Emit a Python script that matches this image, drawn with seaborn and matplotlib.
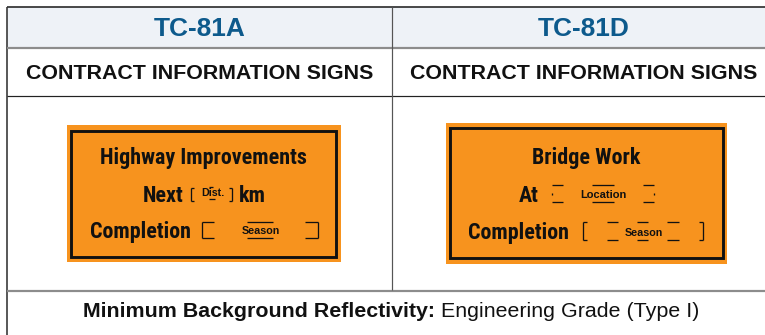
import matplotlib
matplotlib.use("Agg")
import matplotlib.pyplot as plt
import seaborn as sns
from matplotlib import font_manager
from matplotlib.patches import Rectangle

# table text
headers = ["TC-81A", "TC-81D"]
subtitles = ["CONTRACT INFORMATION SIGNS", "CONTRACT INFORMATION SIGNS"]
sign_titles = ["Highway Improvements", "Bridge Work"]
sign_words = [["Next", "km", "Completion"], ["At", "Completion"]]
field_labels = [["Dist.", "Season"], ["Location", "Season"]]
footer_bold = "Minimum Background Reflectivity:"
footer_regular = "Engineering Grade (Type I)"

sns.set_theme(style="white")
names = {f.name for f in font_manager.fontManager.ttflist}
base = "Liberation Sans" if "Liberation Sans" in names else "DejaVu Sans"
plt.rcParams['font.family'] = [base, 'DejaVu Sans']
# condensed face for the sign legend, if there is one
sign_font = base
for cand in ["Liberation Sans Narrow", "Roboto Condensed", "DejaVu Sans Condensed"]:
    if cand in names:
        sign_font = cand
        break

ORANGE = "#f7931e"
BLUE = "#0d5a8c"
INK = "#111111"

fig = plt.figure(figsize=(7.65, 3.35), dpi=100)
ax = fig.add_axes([0, 0, 1, 1])
ax.set_xlim(0, 765)
ax.set_ylim(335, 0)
ax.axis("off")
r = fig.canvas.get_renderer()


def fit(x, y, s, w, ha="center", **kw):
    t = ax.text(x, y, s, ha=ha, va="baseline", fontsize=12, **kw)
    bw = t.get_window_extent(renderer=r).width
    t.set_fontsize(12 * w / bw)
    return t


def seg(x0, x1, y0, y1, lw=1.3, c=INK):
    ax.plot([x0, x1], [y0, y1], color=c, lw=lw * 0.72, solid_capstyle="butt")


# table frame
ax.add_patch(Rectangle((7, 7), 770, 40, color="#eef2f7", lw=0))
seg(7, 765, 7, 7, 1.6, "#222222")
seg(7, 7, 6.5, 335, 1.6, "#333333")
seg(7, 765, 47.5, 47.5, 2.2, "#8c8c8c")
seg(7, 765, 95.5, 95.5, 1.2, "#222222")
seg(7, 765, 290.5, 290.5, 2.2, "#8c8c8c")
seg(392, 392, 7, 290, 1.2, "#555555")

# headers
for cx, h, s in zip([199.5, 584], headers, subtitles):
    fit(cx, 36, h, 91, color=BLUE, fontweight="bold")
    fit(cx, 79, s, 345, color=INK, fontweight="bold")

# signs
for (x0, y0, x1, y1), (bx0, by0, bx1, by1) in [((67, 125, 341, 262), (71.5, 130.5, 336.5, 256.5)),
                                               ((446, 123.3, 727, 264), (449.7, 128, 723, 258))]:
    ax.add_patch(Rectangle((x0, y0), x1 - x0, y1 - y0, color=ORANGE, lw=0))
    ax.add_patch(Rectangle((bx0, by0), bx1 - bx0, by1 - by0, fill=False, ec=INK, lw=2.9 * 0.72))

sk = dict(family=[sign_font, "DejaVu Sans"], fontweight="bold", color=INK, va="baseline")
t = ax.text(203, 164, sign_titles[0], ha="center", fontsize=12, **sk)
fs = 0.93 * 12 * 222 / t.get_window_extent(renderer=r).width
t.set_fontsize(fs)
ax.text(143, 202, sign_words[0][0], fontsize=fs, **sk)
ax.text(239, 202, sign_words[0][1], fontsize=fs, **sk)
ax.text(90, 238, sign_words[0][2], fontsize=fs, **sk)

ax.text(586, 164, sign_titles[1], fontsize=fs, ha="center", **sk)
ax.text(519, 202, sign_words[1][0], fontsize=fs, **sk)
ax.text(468, 239, sign_words[1][1], fontsize=fs, **sk)

# sign A fields
fit(213, 196.5, field_labels[0][0], 23, color=INK, fontweight="bold")
seg(191, 191, 188, 201); seg(191, 194, 188, 188); seg(191, 194, 201, 201)
seg(232, 232, 188, 201); seg(229, 232, 188, 188); seg(229, 232, 201, 201)
seg(209, 213, 187, 187); seg(209, 215, 198.5, 198.5)
fit(261, 233.5, field_labels[0][1], 38, color=INK, fontweight="bold")
seg(202, 202, 222, 238); seg(202, 214, 222, 222); seg(202, 214, 238, 238)
seg(247, 273, 222, 222); seg(247, 273, 238, 238)
seg(318, 318, 222, 238); seg(305, 318, 222, 222); seg(305, 318, 238, 238)

# sign D fields
fit(603, 197.5, field_labels[1][0], 46, color=INK, fontweight="bold")
for a, b in [(552, 563), (592, 614), (643, 654)]:
    seg(a, b, 185, 185); seg(a, b, 202, 202)
seg(552, 552, 193, 195); seg(654, 654, 193, 195)
fit(644, 235.5, field_labels[1][1], 38, color=INK, fontweight="bold")
seg(583, 583, 222, 240); seg(583, 587, 222, 222); seg(583, 587, 240, 240)
for a, b in [(607, 618), (637, 648), (667, 679)]:
    seg(a, b, 222, 222); seg(a, b, 240, 240)
seg(703, 703, 222, 240); seg(699, 703, 222, 222); seg(699, 703, 240, 240)

# footer
tb = ax.text(0, 317, footer_bold + " ", fontsize=15.4, fontweight="bold", color=INK, va="baseline")
tr = ax.text(0, 317, footer_regular, fontsize=15.4, color=INK, va="baseline")
wb = tb.get_window_extent(renderer=r).width
wr = tr.get_window_extent(renderer=r).width
left = 391 - (wb + wr) / 2
tb.set_x(left)
tr.set_x(left + wb)

fig.savefig("out.png", dpi=100)
